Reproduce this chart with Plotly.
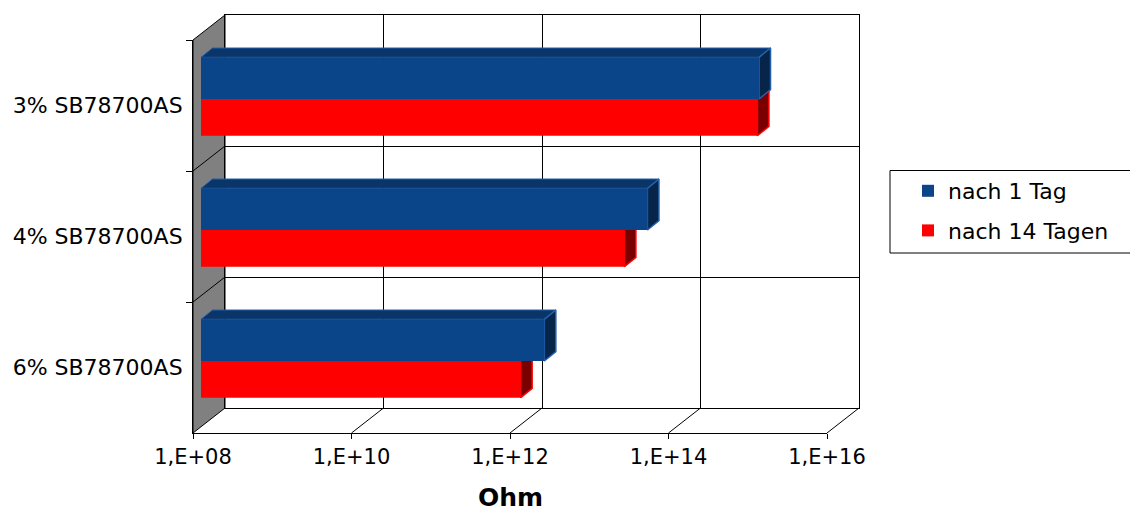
import plotly.graph_objects as go

# ---------------- data ----------------
categories = ["3% SB78700AS", "4% SB78700AS", "6% SB78700AS"]
series_names = ["nach 1 Tag", "nach 14 Tagen"]
values_1_tag = [1.1e15, 4.3e13, 2.15e12]
values_14_tage = [1.05e15, 2.2e13, 1.08e12]
tick_values = [1e8, 1e10, 1e12, 1e14, 1e16]
tick_labels = ["1,E+08", "1,E+10", "1,E+12", "1,E+14", "1,E+16"]
axis_title = "Ohm"

# ---------------- geometry / style ----------------
PAGE_OFF = 8                 # default body margin of the html page
W, H = 1138 - PAGE_OFF, 515 - PAGE_OFF
FONT = "DejaVu Sans"
FX0, FX1 = 193, 827          # front plane: 1e8 .. 1e16 (screen px)
FY0, FY1 = 40, 433           # front plane top / bottom
DX, DY = 32, -25             # back wall offset
BDX, BDY = 8, -6.5           # bar plane offset
CAP_DX, CAP_DY = 11.5, -9.3  # bar depth
BAND = (FY1 - FY0) / 3.0
DEC = (FX1 - FX0) / 8.0
WB = 41.7 / BAND             # blue bar thickness (category units)
WR = 36.7 / BAND             # red bar thickness

BLUE = "#0B4589"
BLUE_TOP = "#0A3568"
BLUE_CAP = "#072449"
BLUE_EDGE = "#2461AD"
RED = "#FF0000"
RED_TOP = "#D00000"
RED_CAP = "#7A0000"


def px(x):
    return (x - PAGE_OFF) / W


def py(y):
    return 1 - (y - PAGE_OFF) / H


fig = go.Figure()

# ---- scaffold so the back-wall grid subplot exists ----
fig.add_trace(go.Scatter(x=[tick_values[1]], y=[0], mode="markers", marker=dict(opacity=0),
                         xaxis="x", yaxis="y", showlegend=False, hoverinfo="skip"))

# ---- 3D faces (drawn beneath the bars, in bar plane axes x2/y2) ----
f = 10 ** (CAP_DX / DEC)
dyu = CAP_DY / BAND
base = tick_values[0]
for i, (vb, vr) in enumerate(zip(values_1_tag, values_14_tage)):
    yt = i
    fig.add_trace(go.Scatter(
        x=[base, vr, vr * f, base * f, base], y=[yt, yt, yt + dyu, yt + dyu, yt],
        fill="toself", fillcolor=RED_TOP, mode="lines", line=dict(width=0, color=RED_TOP),
        xaxis="x2", yaxis="y2", showlegend=False, hoverinfo="skip"))
    fig.add_trace(go.Scatter(
        x=[vr, vr, vr * f, vr * f, vr], y=[i, i + WR, i + WR + dyu, i + dyu, i],
        fill="toself", fillcolor=RED_CAP, mode="lines", line=dict(width=1.5, color=RED),
        xaxis="x2", yaxis="y2", showlegend=False, hoverinfo="skip"))
    yt = i - WB
    fig.add_trace(go.Scatter(
        x=[base, vb, vb * f, base * f, base], y=[yt, yt, yt + dyu, yt + dyu, yt],
        fill="toself", fillcolor=BLUE_TOP, mode="lines", line=dict(width=1, color=BLUE_EDGE),
        xaxis="x2", yaxis="y2", showlegend=False, hoverinfo="skip"))
    fig.add_trace(go.Scatter(
        x=[vb, vb, vb * f, vb * f, vb], y=[i - WB, i, i + dyu, i - WB + dyu, i - WB],
        fill="toself", fillcolor=BLUE_CAP, mode="lines", line=dict(width=1.5, color=BLUE_EDGE),
        xaxis="x2", yaxis="y2", showlegend=False, hoverinfo="skip"))

# ---- bars (front faces) ----
ypos = list(range(len(categories)))
fig.add_trace(go.Bar(
    name=series_names[0], orientation="h", x=values_1_tag, y=ypos, base=[base] * 3,
    width=WB, offset=-WB, marker=dict(color=BLUE, line=dict(width=0)),
    xaxis="x3", yaxis="y3", legendgroup="a"))
fig.add_trace(go.Bar(
    name=series_names[1], orientation="h", x=values_14_tage, y=ypos, base=[base] * 3,
    width=WR, offset=0, marker=dict(color=RED, line=dict(width=0)),
    xaxis="x3", yaxis="y3", legendgroup="b"))

# ---- invisible scaffold for the front category axis ----
fig.add_trace(go.Scatter(
    x=[base] * 3, y=categories, mode="markers", marker=dict(opacity=0),
    xaxis="x4", yaxis="y4", showlegend=False, hoverinfo="skip"))

# ---------------- shapes: left wall & floor ----------------
shapes = []
wall = (f"M{px(FX0)},{py(FY0)} L{px(FX0+DX)},{py(FY0+DY)} "
        f"L{px(FX0+DX)},{py(FY1+DY)} L{px(FX0)},{py(FY1)} Z")
shapes.append(dict(type="path", path=wall, xref="paper", yref="paper",
                   fillcolor="#808080", line=dict(color="black", width=1), layer="below"))
for k in (1, 2):
    y = FY0 + k * BAND
    shapes.append(dict(type="line", xref="paper", yref="paper",
                       x0=px(FX0), y0=py(y), x1=px(FX0 + DX), y1=py(y + DY),
                       line=dict(color="black", width=1), layer="below"))
for k in range(1, 5):
    x = FX0 + k * 2 * DEC
    shapes.append(dict(type="line", xref="paper", yref="paper",
                       x0=px(x), y0=py(FY1), x1=px(x + DX), y1=py(FY1 + DY),
                       line=dict(color="black", width=1), layer="below"))
# legend frame
shapes.append(dict(type="rect", xref="paper", yref="paper",
                   x0=px(890), y0=py(253), x1=px(1145), y1=py(170.5),
                   line=dict(color="black", width=1), fillcolor="rgba(0,0,0,0)"))

hidden = dict(visible=False, automargin=False)

fig.update_layout(
    width=W, height=H, template="none",
    margin=dict(l=0, r=0, t=0, b=0),
    paper_bgcolor="white", plot_bgcolor="rgba(0,0,0,0)",
    font=dict(family=FONT, size=22, color="black"),
    barmode="overlay",
    shapes=shapes,
    # back wall grid
    xaxis=dict(type="log", range=[8, 16], domain=[px(FX0 + DX), px(FX1 + DX)], anchor="y",
               tickvals=tick_values, showticklabels=False, ticks="",
               showgrid=True, gridcolor="black", gridwidth=1, zeroline=False,
               showline=True, mirror=True, linecolor="black", linewidth=1, automargin=False),
    yaxis=dict(range=[2.5, -0.5], domain=[py(FY1 + DY), py(FY0 + DY)], anchor="x",
               tickvals=[0.5, 1.5], showticklabels=False, ticks="",
               showgrid=True, gridcolor="black", gridwidth=1, zeroline=False,
               showline=True, mirror=True, linecolor="black", linewidth=1, automargin=False),
    # bar plane (faces)
    xaxis2=dict(type="log", range=[8, 16], domain=[px(FX0 + BDX), px(FX1 + BDX)], anchor="y2",
                **hidden),
    yaxis2=dict(range=[2.5, -0.5], domain=[py(FY1 + BDY), py(FY0 + BDY)], anchor="x2",
                **hidden),
    # bar plane (bars), overlaying
    xaxis3=dict(type="log", range=[8, 16], overlaying="x2", anchor="y3", **hidden),
    yaxis3=dict(range=[2.5, -0.5], overlaying="y2", anchor="x3", **hidden),
    # front plane axes
    xaxis4=dict(type="log", range=[8, 16], domain=[px(FX0), px(FX1)], anchor="y4",
                tickvals=tick_values, ticktext=tick_labels, ticks="outside", ticklen=5,
                tickcolor="black", showgrid=False, zeroline=False, showline=True,
                linecolor="black", linewidth=1, automargin=False,
                tickfont=dict(family=FONT, size=21, color="black")),
    yaxis4=dict(type="category", categoryorder="array", categoryarray=categories,
                range=[2.5, -0.5], domain=[py(FY1), py(FY0)], anchor="x4",
                tickson="boundaries", ticks="outside", ticklen=6, tickcolor="black",
                showgrid=False, zeroline=False, showline=True, linecolor="black",
                linewidth=1, automargin=False, ticklabelstandoff=5,
                tickfont=dict(family=FONT, size=22, color="black")),
    legend=dict(x=px(908), y=py(170), xanchor="left", yanchor="top",
                bgcolor="rgba(0,0,0,0)", borderwidth=0, tracegroupgap=8,
                traceorder="grouped", font=dict(family=FONT, size=22, color="black")),
    annotations=[dict(text="<b>" + axis_title + "</b>", xref="paper", yref="paper",
                      x=px((FX0 + FX1) / 2), y=py(497), xanchor="center", yanchor="middle",
                      showarrow=False, font=dict(family=FONT, size=25, color="black"))],
)

fig.write_html("out.html")
